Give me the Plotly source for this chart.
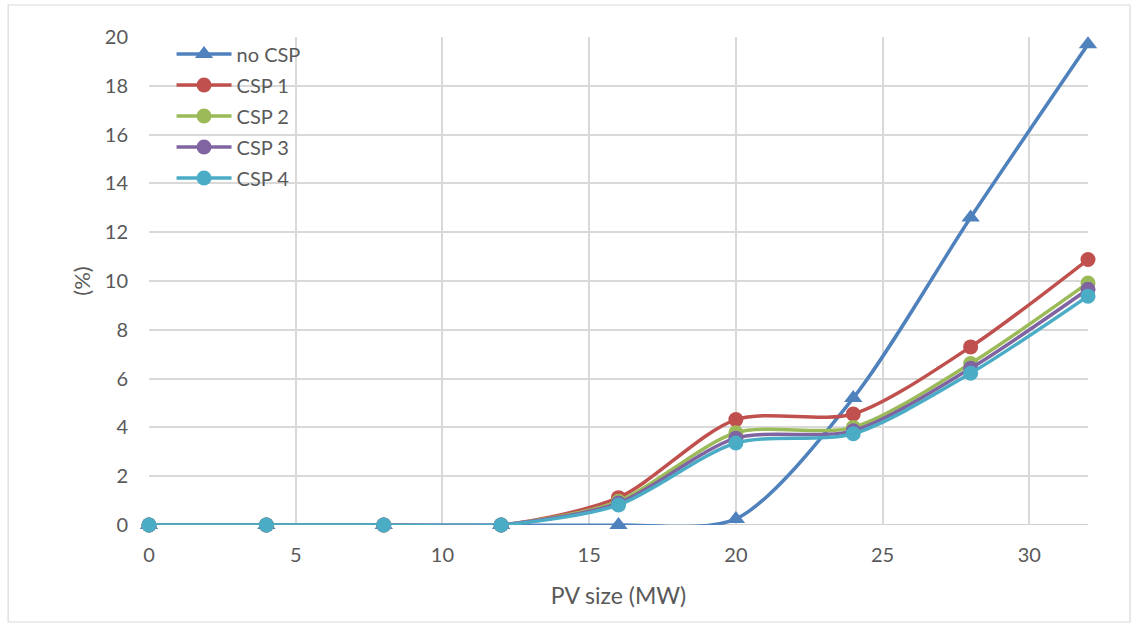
import plotly.graph_objects as go

# PV size (MW) on the x axis
pv_size = [0, 4, 8, 12, 16, 20, 24, 28, 32]

# Percentage values per configuration
no_csp = [0, 0, 0, 0, 0, 0.25, 5.2, 12.6, 19.7]
csp_1 = [0, 0, 0, 0, 1.12, 4.32, 4.55, 7.3, 10.88]
csp_2 = [0, 0, 0, 0, 0.97, 3.78, 4.0, 6.62, 9.92]
csp_3 = [0, 0, 0, 0, 0.9, 3.56, 3.86, 6.42, 9.66]
csp_4 = [0, 0, 0, 0, 0.82, 3.36, 3.74, 6.22, 9.38]

series = [
    ("no CSP", no_csp, "#4F81BD", "triangle-up"),
    ("CSP 1", csp_1, "#C0504D", "circle"),
    ("CSP 2", csp_2, "#9BBB59", "circle"),
    ("CSP 3", csp_3, "#8064A2", "circle"),
    ("CSP 4", csp_4, "#4BACC6", "circle"),
]

x_ticks = [0, 5, 10, 15, 20, 25, 30]
y_ticks = [0, 2, 4, 6, 8, 10, 12, 14, 16, 18, 20]

FONT = "Lato, Liberation Sans, sans-serif"
TEXT_COLOR = "#595959"
GRID = "#d9d9d9"

fig = go.Figure()
for name, values, color, symbol in series:
    fig.add_trace(go.Scatter(
        x=pv_size, y=values, name=name, legendgroup=name,
        mode="lines+markers",
        line=dict(color=color, width=3.5, shape="spline", smoothing=0.8),
        marker=dict(color=color, size=15 if symbol == "circle" else 16, symbol=symbol),
        cliponaxis=False,
    ))

# thin frame around the whole chart
fig.add_shape(type="rect", xref="paper", yref="paper",
              x0=-0.150, x1=1.0447, y0=-0.1988, y1=1.0656,
              line=dict(color="#d9d9d9", width=1.2), fillcolor="rgba(0,0,0,0)",
              layer="below")

fig.update_layout(
    width=1132, height=626,
    margin=dict(l=149, r=44, t=37, b=101),
    paper_bgcolor="white", plot_bgcolor="white",
    font=dict(family=FONT, size=20, color=TEXT_COLOR),
    showlegend=True,
    legend=dict(
        x=0.024, y=1.005, xanchor="left", yanchor="top",
        bgcolor="rgba(0,0,0,0)", borderwidth=0,
        font=dict(family=FONT, size=20, color=TEXT_COLOR),
        itemwidth=55, tracegroupgap=2,
    ),
    xaxis=dict(
        range=[0, 32], tickvals=x_ticks, ticktext=[str(v) for v in x_ticks],
        showgrid=True, gridcolor=GRID, gridwidth=1.5,
        zeroline=False, showline=False, ticks="",
        ticklabelstandoff=16,
        title=dict(text="PV size (MW)", standoff=22,
                   font=dict(family=FONT, size=23, color=TEXT_COLOR)),
    ),
    yaxis=dict(
        range=[0, 20], tickvals=y_ticks, ticktext=[str(v) for v in y_ticks],
        showgrid=True, gridcolor=GRID, gridwidth=1.5,
        zeroline=False, showline=False, ticks="",
        ticklabelstandoff=20,
        title=dict(text="(%)", standoff=8,
                   font=dict(family=FONT, size=22, color=TEXT_COLOR)),
    ),
)

# axis line along y = 0
fig.add_shape(type="line", xref="paper", yref="y", x0=0, x1=1, y0=0, y1=0,
              line=dict(color="#bfbfbf", width=1.5), layer="below")

fig.write_html("out.html")
